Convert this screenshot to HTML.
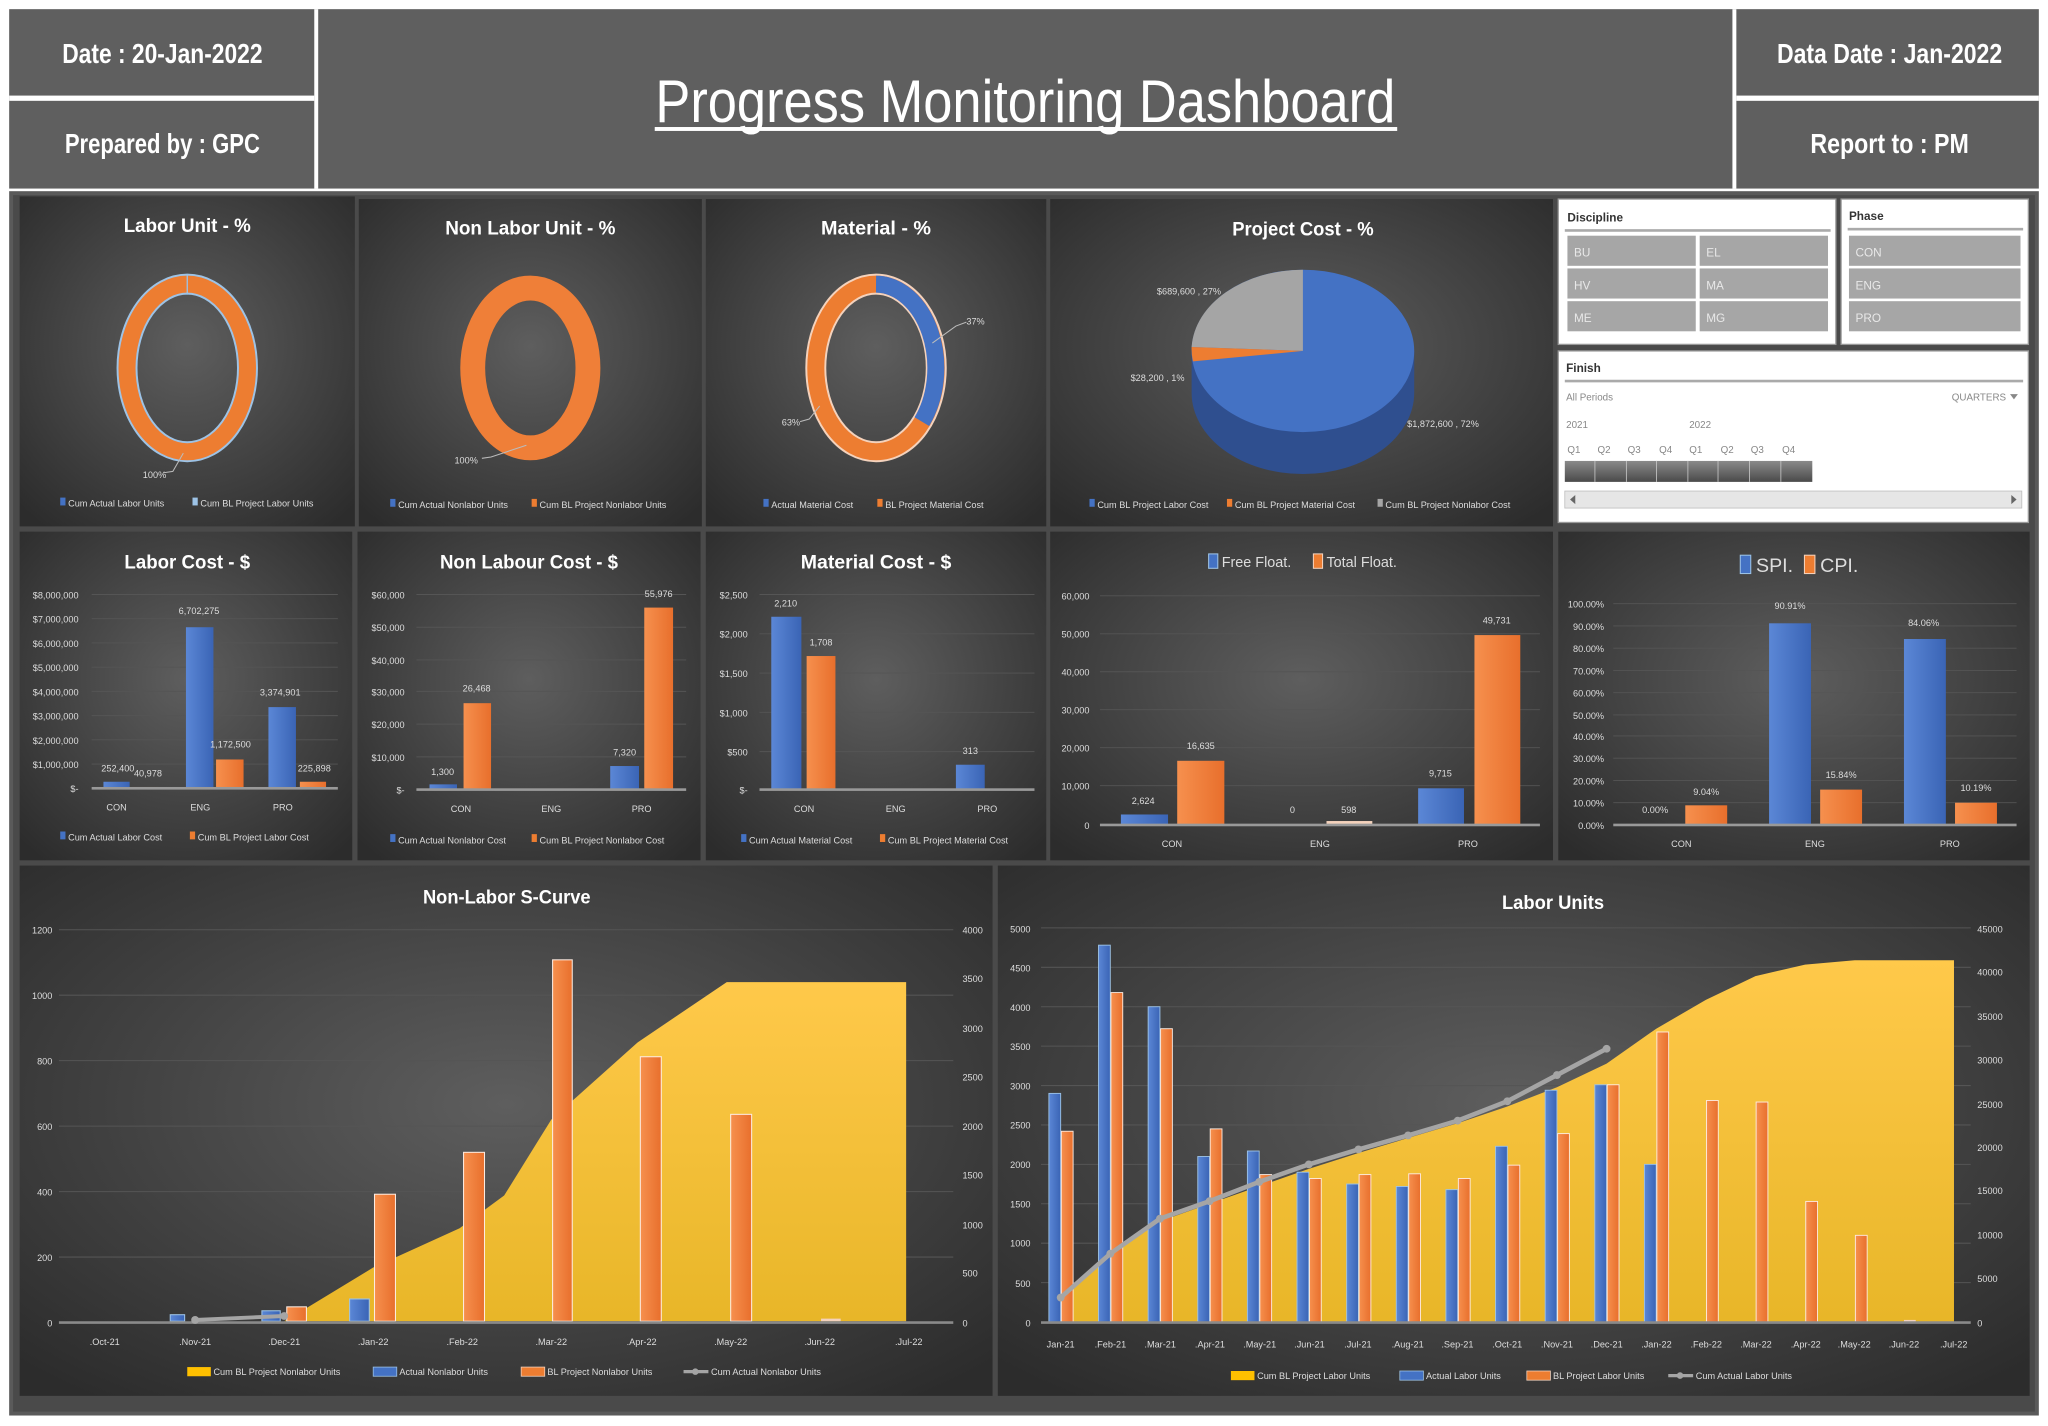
<!DOCTYPE html>
<html><head><meta charset="utf-8"><style>
html,body{margin:0;padding:0;background:#fff;width:2048px;height:1426px;overflow:hidden}
svg{display:block}
text{font-family:"Liberation Sans Narrow","Liberation Sans",sans-serif}
</style></head><body>
<svg width="2048" height="1426" viewBox="0 0 1564 1089" preserveAspectRatio="none" xmlns="http://www.w3.org/2000/svg">
<defs>
<radialGradient id="pg" cx="50%" cy="45%" r="70%"><stop offset="0" stop-color="#5e5e5e"/><stop offset="1" stop-color="#2c2c2c"/></radialGradient>
<linearGradient id="yel" x1="0" y1="0" x2="0" y2="1"><stop offset="0" stop-color="#ffc94a"/><stop offset="1" stop-color="#e8b628"/></linearGradient>
<linearGradient id="blu" x1="0" y1="0" x2="1" y2="0"><stop offset="0" stop-color="#5b87d6"/><stop offset="1" stop-color="#3a64b5"/></linearGradient>
<linearGradient id="org" x1="0" y1="0" x2="1" y2="0"><stop offset="0" stop-color="#f6904e"/><stop offset="1" stop-color="#e86f2c"/></linearGradient>
<linearGradient id="tl" x1="0" y1="0" x2="0" y2="1"><stop offset="0" stop-color="#8a8a8a"/><stop offset="1" stop-color="#4a4a4a"/></linearGradient>
</defs>
<!-- header -->
<rect x="7" y="7" width="1550" height="137" fill="#5f5f5f"/>
<rect x="240" y="7" width="3" height="137" fill="#fff"/>
<rect x="1323" y="7" width="3" height="137" fill="#fff"/>
<rect x="7" y="73" width="233" height="4" fill="#fff"/>
<rect x="1326" y="73" width="231" height="4" fill="#fff"/>
<g fill="#fff" font-weight="bold" font-size="21" text-anchor="middle" lengthAdjust="spacingAndGlyphs">
<text x="124" y="48" textLength="153" lengthAdjust="spacingAndGlyphs">Date : 20-Jan-2022</text>
<text x="124" y="117" textLength="149" lengthAdjust="spacingAndGlyphs">Prepared by : GPC</text>
<text x="1443" y="48" textLength="172" lengthAdjust="spacingAndGlyphs">Data Date : Jan-2022</text>
<text x="1443" y="117" textLength="121" lengthAdjust="spacingAndGlyphs">Report to : PM</text>
</g>
<text x="783" y="93" fill="#fff" font-size="46" text-anchor="middle" textLength="565" lengthAdjust="spacingAndGlyphs">Progress Monitoring Dashboard</text>
<rect x="500" y="97" width="567" height="3" fill="#fff"/>
<!-- frame -->
<rect x="7" y="146" width="1550" height="935" fill="#5a5a5a"/>
<rect x="10" y="149" width="1544" height="929" fill="#4a4a4a"/>
<g fill="url(#pg)">
<rect x="15" y="150" width="256" height="252"/>
<rect x="274" y="152" width="262" height="250"/>
<rect x="539" y="152" width="260" height="250"/>
<rect x="802" y="152" width="384" height="250"/>
<rect x="15" y="406" width="254" height="251"/>
<rect x="273" y="406" width="262" height="251"/>
<rect x="539" y="406" width="260" height="251"/>
<rect x="802" y="406" width="384" height="251"/>
<rect x="1190" y="406" width="360" height="251"/>
<rect x="15" y="661" width="743" height="405"/>
<rect x="762" y="661" width="788" height="405"/>
</g>
<g fill="#fff" font-weight="bold" font-size="15" text-anchor="middle">
<text x="143" y="177" textLength="97" lengthAdjust="spacingAndGlyphs">Labor Unit - %</text>
<text x="405" y="179" textLength="130" lengthAdjust="spacingAndGlyphs">Non Labor Unit - %</text>
<text x="669" y="179" textLength="84" lengthAdjust="spacingAndGlyphs">Material - %</text>
<text x="995" y="180" textLength="108" lengthAdjust="spacingAndGlyphs">Project Cost - %</text>
<text x="143" y="434" textLength="96" lengthAdjust="spacingAndGlyphs">Labor Cost - $</text>
<text x="404" y="434" textLength="136" lengthAdjust="spacingAndGlyphs">Non Labour Cost - $</text>
<text x="669" y="434" textLength="115" lengthAdjust="spacingAndGlyphs">Material Cost - $</text>
<text x="387" y="690" textLength="128" lengthAdjust="spacingAndGlyphs">Non-Labor S-Curve</text>
<text x="1186" y="694" textLength="78" lengthAdjust="spacingAndGlyphs">Labor Units</text>
</g>
<g font-size="7">
<!-- donuts -->
<ellipse cx="143" cy="281" rx="46" ry="64" fill="none" stroke="#9dc3e6" stroke-width="16"/>
<ellipse cx="143" cy="281" rx="46" ry="64" fill="none" stroke="#ed7d31" stroke-width="13"/>
<line x1="143" y1="210" x2="143" y2="225" stroke="#9dc3e6" stroke-width="1"/>
<polyline points="140,346 132,360 125,361" fill="none" stroke="#bbb" stroke-width="0.8"/>
<text x="118" y="365" fill="#ddd" text-anchor="middle">100%</text>
<ellipse cx="405" cy="281" rx="44" ry="61" fill="none" stroke="#ef7f38" stroke-width="19"/>
<polyline points="402,340 375,349 368,350" fill="none" stroke="#bbb" stroke-width="0.8"/>
<text x="356" y="354" fill="#ddd" text-anchor="middle">100%</text>
<ellipse cx="669" cy="281" rx="46" ry="64" fill="none" stroke="#f4d2bc" stroke-width="16"/>
<ellipse cx="669" cy="281" rx="46" ry="64" fill="none" stroke="#ed7d31" stroke-width="13"/>
<path d="M669,217 A46,64 0 0 1 704,322" fill="none" stroke="#4472c4" stroke-width="13"/>
<polyline points="712,262 730,249 738,246" fill="none" stroke="#bbb" stroke-width="0.8"/>
<text x="745" y="248" fill="#ddd" text-anchor="middle">37%</text>
<polyline points="626,310 618,320 611,322" fill="none" stroke="#bbb" stroke-width="0.8"/>
<text x="604" y="325" fill="#ddd" text-anchor="middle">63%</text>
<!-- 3d pie -->
<path d="M910,268 L910,300 A85,62 0 0 0 1080,300 L1080,268 Z" fill="#2f4f8f"/>
<ellipse cx="995" cy="268" rx="85" ry="62" fill="#4472c4"/>
<path d="M995,268 L995,206 A85,62 0 0 0 910,265 Z" fill="#a5a5a5"/>
<path d="M995,268 L910,265 A85,62 0 0 0 911,276 Z" fill="#ed7d31"/>
<text x="908" y="225" fill="#ddd" text-anchor="middle">$689,600 , 27%</text>
<text x="884" y="291" fill="#ddd" text-anchor="middle">$28,200 , 1%</text>
<text x="1102" y="326" fill="#ddd" text-anchor="middle">$1,872,600 , 72%</text>
<!-- row1 legends -->
<g fill="#ddd">
<rect x="46" y="380" width="4" height="6" fill="#4472c4"/><text x="52" y="387">Cum Actual Labor Units</text>
<rect x="147" y="380" width="4" height="6" fill="#9dc3e6"/><text x="153" y="387">Cum BL Project Labor Units</text>
<rect x="298" y="381" width="4" height="6" fill="#4472c4"/><text x="304" y="388">Cum Actual Nonlabor Units</text>
<rect x="406" y="381" width="4" height="6" fill="#ed7d31"/><text x="412" y="388">Cum BL Project Nonlabor Units</text>
<rect x="583" y="381" width="4" height="6" fill="#4472c4"/><text x="589" y="388">Actual Material Cost</text>
<rect x="670" y="381" width="4" height="6" fill="#ed7d31"/><text x="676" y="388">BL Project Material Cost</text>
<rect x="832" y="381" width="4" height="6" fill="#4472c4"/><text x="838" y="388">Cum BL Project Labor Cost</text>
<rect x="937" y="381" width="4" height="6" fill="#ed7d31"/><text x="943" y="388">Cum BL Project Material Cost</text>
<rect x="1052" y="381" width="4" height="6" fill="#a5a5a5"/><text x="1058" y="388">Cum BL Project Nonlabor Cost</text>
</g>
</g>
<!-- slicers -->
<rect x="1190" y="152" width="212" height="111" fill="#fff" stroke="#999"/>
<rect x="1406" y="152" width="143" height="111" fill="#fff" stroke="#999"/>
<text x="1197" y="169" font-size="9" font-weight="bold" fill="#333">Discipline</text>
<text x="1412" y="168" font-size="9" font-weight="bold" fill="#333">Phase</text>
<rect x="1195" y="175" width="203" height="2" fill="#aaa"/>
<rect x="1411" y="174" width="134" height="2" fill="#aaa"/>
<g fill="#a6a6a6">
<rect x="1197" y="180" width="98" height="23"/><rect x="1298" y="180" width="98" height="23"/>
<rect x="1197" y="205" width="98" height="23"/><rect x="1298" y="205" width="98" height="23"/>
<rect x="1197" y="230" width="98" height="23"/><rect x="1298" y="230" width="98" height="23"/>
<rect x="1412" y="180" width="131" height="23"/><rect x="1412" y="205" width="131" height="23"/><rect x="1412" y="230" width="131" height="23"/>
</g>
<g font-size="9" fill="#e8e8e8">
<text x="1202" y="196">BU</text><text x="1303" y="196">EL</text>
<text x="1202" y="221">HV</text><text x="1303" y="221">MA</text>
<text x="1202" y="246">ME</text><text x="1303" y="246">MG</text>
<text x="1417" y="196">CON</text><text x="1417" y="221">ENG</text><text x="1417" y="246">PRO</text>
</g>
<rect x="1190" y="268" width="359" height="131" fill="#fff" stroke="#999"/>
<text x="1196" y="284" font-size="9" font-weight="bold" fill="#333">Finish</text>
<rect x="1195" y="290" width="350" height="2" fill="#aaa"/>
<g font-size="7.5" fill="#888">
<text x="1196" y="306">All Periods</text>
<text x="1532" y="306" text-anchor="end">QUARTERS</text>
<text x="1196" y="327">2021</text><text x="1290" y="327">2022</text>
<text x="1197" y="346">Q1</text><text x="1220" y="346">Q2</text><text x="1243" y="346">Q3</text><text x="1267" y="346">Q4</text>
<text x="1290" y="346">Q1</text><text x="1314" y="346">Q2</text><text x="1337" y="346">Q3</text><text x="1361" y="346">Q4</text>
</g>
<path d="M1535,301 l6,0 l-3,4 z" fill="#888"/>
<rect x="1195" y="352" width="189" height="16" fill="url(#tl)"/>
<g stroke="#ccc" stroke-width="0.6"><line x1="1218" y1="352" x2="1218" y2="368"/><line x1="1242" y1="352" x2="1242" y2="368"/><line x1="1265" y1="352" x2="1265" y2="368"/><line x1="1289" y1="352" x2="1289" y2="368"/><line x1="1312" y1="352" x2="1312" y2="368"/><line x1="1336" y1="352" x2="1336" y2="368"/><line x1="1360" y1="352" x2="1360" y2="368"/></g>
<rect x="1195" y="375" width="349" height="13" fill="#e6e6e6" stroke="#bbb" stroke-width="0.6"/>
<path d="M1203,378 l-4,3.5 l4,3.5z M1536,378 l4,3.5 l-4,3.5z" fill="#666"/>

<g font-size="7">
<!-- Labor cost -->
<g stroke="#555" stroke-width="0.7">
<line x1="70" y1="454" x2="258" y2="454"/><line x1="70" y1="472.5" x2="258" y2="472.5"/><line x1="70" y1="491" x2="258" y2="491"/><line x1="70" y1="509.5" x2="258" y2="509.5"/><line x1="70" y1="528" x2="258" y2="528"/><line x1="70" y1="546.5" x2="258" y2="546.5"/><line x1="70" y1="565" x2="258" y2="565"/><line x1="70" y1="583.5" x2="258" y2="583.5"/>
</g>
<g fill="#ddd" text-anchor="end">
<text x="60" y="457">$8,000,000</text><text x="60" y="475.5">$7,000,000</text><text x="60" y="494">$6,000,000</text><text x="60" y="512.5">$5,000,000</text><text x="60" y="531">$4,000,000</text><text x="60" y="549.5">$3,000,000</text><text x="60" y="568">$2,000,000</text><text x="60" y="586.5">$1,000,000</text><text x="60" y="605">$-</text>
</g>
<rect x="79" y="597" width="20" height="5" fill="url(#blu)"/><rect x="101" y="601" width="20" height="1" fill="url(#org)"/>
<rect x="142" y="479" width="21" height="123" fill="url(#blu)"/><rect x="165" y="580" width="21" height="22" fill="url(#org)"/>
<rect x="205" y="540" width="21" height="62" fill="url(#blu)"/><rect x="229" y="597" width="20" height="5" fill="url(#org)"/>
<rect x="70" y="601" width="188" height="2" fill="#999"/>
<g fill="#ddd" text-anchor="middle">
<text x="90" y="589">252,400</text><text x="113" y="593">40,978</text><text x="152" y="469">6,702,275</text><text x="176" y="571">1,172,500</text><text x="214" y="531">3,374,901</text><text x="240" y="589">225,898</text>
<text x="89" y="619">CON</text><text x="153" y="619">ENG</text><text x="216" y="619">PRO</text>
</g>
<!-- Non labour cost -->
<g stroke="#555" stroke-width="0.7">
<line x1="318" y1="454" x2="524" y2="454"/><line x1="318" y1="479" x2="524" y2="479"/><line x1="318" y1="504" x2="524" y2="504"/><line x1="318" y1="528" x2="524" y2="528"/><line x1="318" y1="553" x2="524" y2="553"/><line x1="318" y1="578" x2="524" y2="578"/>
</g>
<g fill="#ddd" text-anchor="end">
<text x="309" y="457">$60,000</text><text x="309" y="482">$50,000</text><text x="309" y="507">$40,000</text><text x="309" y="531">$30,000</text><text x="309" y="556">$20,000</text><text x="309" y="581">$10,000</text><text x="309" y="606">$-</text>
</g>
<rect x="328" y="599" width="21" height="4" fill="url(#blu)"/><rect x="354" y="537" width="21" height="66" fill="url(#org)"/>
<rect x="466" y="585" width="22" height="18" fill="url(#blu)"/><rect x="492" y="464" width="22" height="139" fill="url(#org)"/>
<rect x="318" y="602" width="206" height="2" fill="#999"/>
<g fill="#ddd" text-anchor="middle">
<text x="338" y="592">1,300</text><text x="364" y="528">26,468</text><text x="477" y="577">7,320</text><text x="503" y="456">55,976</text>
<text x="352" y="620">CON</text><text x="421" y="620">ENG</text><text x="490" y="620">PRO</text>
</g>
<!-- Material cost -->
<g stroke="#555" stroke-width="0.7">
<line x1="580" y1="454" x2="790" y2="454"/><line x1="580" y1="484" x2="790" y2="484"/><line x1="580" y1="514" x2="790" y2="514"/><line x1="580" y1="544" x2="790" y2="544"/><line x1="580" y1="574" x2="790" y2="574"/>
</g>
<g fill="#ddd" text-anchor="end">
<text x="571" y="457">$2,500</text><text x="571" y="487">$2,000</text><text x="571" y="517">$1,500</text><text x="571" y="547">$1,000</text><text x="571" y="577">$500</text><text x="571" y="606">$-</text>
</g>
<rect x="589" y="471" width="23" height="132" fill="url(#blu)"/><rect x="616" y="501" width="22" height="102" fill="url(#org)"/>
<rect x="730" y="584" width="22" height="19" fill="url(#blu)"/>
<rect x="580" y="602" width="210" height="2" fill="#999"/>
<g fill="#ddd" text-anchor="middle">
<text x="600" y="463">2,210</text><text x="627" y="493">1,708</text><text x="741" y="576">313</text>
<text x="614" y="620">CON</text><text x="684" y="620">ENG</text><text x="754" y="620">PRO</text>
</g>
<g fill="#ddd">
<rect x="46" y="635" width="4" height="6" fill="#4472c4"/><text x="52" y="642">Cum Actual Labor Cost</text>
<rect x="145" y="635" width="4" height="6" fill="#ed7d31"/><text x="151" y="642">Cum BL Project Labor Cost</text>
<rect x="298" y="637" width="4" height="6" fill="#4472c4"/><text x="304" y="644">Cum Actual Nonlabor Cost</text>
<rect x="406" y="637" width="4" height="6" fill="#ed7d31"/><text x="412" y="644">Cum BL Project Nonlabor Cost</text>
<rect x="566" y="637" width="4" height="6" fill="#4472c4"/><text x="572" y="644">Cum Actual Material Cost</text>
<rect x="672" y="637" width="4" height="6" fill="#ed7d31"/><text x="678" y="644">Cum BL Project Material Cost</text>
</g>
<!-- Floats -->
<rect x="923" y="423" width="7" height="11" fill="#4472c4" stroke="#9dc3e6" stroke-width="0.8"/><text x="933" y="433" font-size="11" fill="#ddd">Free Float.</text>
<rect x="1003" y="423" width="7" height="11" fill="#ed7d31" stroke="#f4d2bc" stroke-width="0.8"/><text x="1013" y="433" font-size="11" fill="#ddd">Total Float.</text>
<g stroke="#555" stroke-width="0.7">
<line x1="840" y1="455" x2="1176" y2="455"/><line x1="840" y1="484" x2="1176" y2="484"/><line x1="840" y1="513" x2="1176" y2="513"/><line x1="840" y1="542" x2="1176" y2="542"/><line x1="840" y1="571" x2="1176" y2="571"/><line x1="840" y1="600" x2="1176" y2="600"/>
</g>
<g fill="#ddd" text-anchor="end">
<text x="832" y="458">60,000</text><text x="832" y="487">50,000</text><text x="832" y="516">40,000</text><text x="832" y="545">30,000</text><text x="832" y="574">20,000</text><text x="832" y="603">10,000</text><text x="832" y="633">0</text>
</g>
<rect x="856" y="622" width="36" height="8" fill="url(#blu)"/><rect x="899" y="581" width="36" height="49" fill="url(#org)"/>
<rect x="1013" y="627" width="35" height="3" fill="#f4d2bc"/>
<rect x="1083" y="602" width="35" height="28" fill="url(#blu)"/><rect x="1126" y="485" width="35" height="145" fill="url(#org)"/>
<rect x="840" y="629" width="336" height="2" fill="#999"/>
<g fill="#ddd" text-anchor="middle">
<text x="873" y="614">2,624</text><text x="917" y="572">16,635</text><text x="987" y="621">0</text><text x="1030" y="621">598</text><text x="1100" y="593">9,715</text><text x="1143" y="476">49,731</text>
<text x="895" y="647">CON</text><text x="1008" y="647">ENG</text><text x="1121" y="647">PRO</text>
</g>
<!-- SPI CPI -->
<rect x="1329" y="424" width="8" height="14" fill="#4472c4" stroke="#9dc3e6" stroke-width="0.8"/><text x="1341" y="437" font-size="15" fill="#ddd">SPI.</text>
<rect x="1378" y="424" width="8" height="14" fill="#ed7d31" stroke="#f4d2bc" stroke-width="0.8"/><text x="1390" y="437" font-size="15" fill="#ddd">CPI.</text>
<g stroke="#555" stroke-width="0.7">
<line x1="1232" y1="461" x2="1540" y2="461"/><line x1="1232" y1="478" x2="1540" y2="478"/><line x1="1232" y1="495" x2="1540" y2="495"/><line x1="1232" y1="512" x2="1540" y2="512"/><line x1="1232" y1="529" x2="1540" y2="529"/><line x1="1232" y1="546" x2="1540" y2="546"/><line x1="1232" y1="562" x2="1540" y2="562"/><line x1="1232" y1="579" x2="1540" y2="579"/><line x1="1232" y1="596" x2="1540" y2="596"/><line x1="1232" y1="613" x2="1540" y2="613"/>
</g>
<g fill="#ddd" text-anchor="end">
<text x="1225" y="464">100.00%</text><text x="1225" y="481">90.00%</text><text x="1225" y="498">80.00%</text><text x="1225" y="515">70.00%</text><text x="1225" y="532">60.00%</text><text x="1225" y="549">50.00%</text><text x="1225" y="565">40.00%</text><text x="1225" y="582">30.00%</text><text x="1225" y="599">20.00%</text><text x="1225" y="616">10.00%</text><text x="1225" y="633">0.00%</text>
</g>
<rect x="1287" y="615" width="32" height="15" fill="url(#org)"/>
<rect x="1351" y="476" width="32" height="154" fill="url(#blu)"/><rect x="1390" y="603" width="32" height="27" fill="url(#org)"/>
<rect x="1454" y="488" width="32" height="142" fill="url(#blu)"/><rect x="1493" y="613" width="32" height="17" fill="url(#org)"/>
<rect x="1232" y="629" width="308" height="2" fill="#999"/>
<g fill="#ddd" text-anchor="middle">
<text x="1264" y="621">0.00%</text><text x="1303" y="607">9.04%</text><text x="1367" y="465">90.91%</text><text x="1406" y="594">15.84%</text><text x="1469" y="478">84.06%</text><text x="1509" y="604">10.19%</text>
<text x="1284" y="647">CON</text><text x="1386" y="647">ENG</text><text x="1489" y="647">PRO</text>
</g>

<!-- Non-Labor S-curve -->
<g stroke="#555" stroke-width="0.8">
<line x1="45" y1="710" x2="728" y2="710"/><line x1="45" y1="760" x2="728" y2="760"/><line x1="45" y1="810" x2="728" y2="810"/><line x1="45" y1="860" x2="728" y2="860"/><line x1="45" y1="910" x2="728" y2="910"/><line x1="45" y1="960" x2="728" y2="960"/>
</g>
<path d="M217,1009 L234,999 L285,968 L351,938 L385,913 L421,855 L487,796 L555,750 L692,750 L692,1009 Z" fill="url(#yel)"/>
<g stroke="#fdebe0" stroke-width="0.8">
<rect x="219" y="998" width="15" height="11" fill="url(#org)"/>
<rect x="286" y="912" width="16" height="97" fill="url(#org)"/>
<rect x="354" y="880" width="16" height="129" fill="url(#org)"/>
<rect x="422" y="733" width="15" height="276" fill="url(#org)"/>
<rect x="489" y="807" width="16" height="202" fill="url(#org)"/>
<rect x="558" y="851" width="16" height="158" fill="url(#org)"/>
</g>
<g stroke="#9dc3e6" stroke-width="0.8">
<rect x="130" y="1004" width="11" height="5" fill="url(#blu)"/>
<rect x="200" y="1001" width="14" height="8" fill="url(#blu)"/>
<rect x="267" y="992" width="15" height="17" fill="url(#blu)"/>
</g>
<rect x="627" y="1007" width="15" height="2" fill="#f4d2bc"/>
<rect x="45" y="1009" width="683" height="2" fill="#8a8a8a"/>
<polyline points="149,1008 217,1005" stroke="#a5a5a5" stroke-width="3" fill="none"/>
<circle cx="149" cy="1008" r="3" fill="#a5a5a5"/><circle cx="217" cy="1005" r="3" fill="#a5a5a5"/>
<g fill="#ddd" text-anchor="end">
<text x="40" y="713">1200</text><text x="40" y="763">1000</text><text x="40" y="813">800</text><text x="40" y="863">600</text><text x="40" y="913">400</text><text x="40" y="963">200</text><text x="40" y="1013">0</text>
</g>
<g fill="#ddd">
<text x="735" y="713">4000</text><text x="735" y="750">3500</text><text x="735" y="788">3000</text><text x="735" y="825">2500</text><text x="735" y="863">2000</text><text x="735" y="900">1500</text><text x="735" y="938">1000</text><text x="735" y="975">500</text><text x="735" y="1013">0</text>
</g>
<g fill="#ddd" text-anchor="middle">
<text x="80" y="1027">.Oct-21</text><text x="149" y="1027">.Nov-21</text><text x="217" y="1027">.Dec-21</text><text x="285" y="1027">.Jan-22</text><text x="353" y="1027">.Feb-22</text><text x="421" y="1027">.Mar-22</text><text x="490" y="1027">.Apr-22</text><text x="558" y="1027">.May-22</text><text x="626" y="1027">.Jun-22</text><text x="694" y="1027">.Jul-22</text>
</g>
<g fill="#ddd">
<rect x="143" y="1044" width="18" height="7" fill="#ffc000"/><text x="163" y="1050">Cum BL Project Nonlabor Units</text>
<rect x="285" y="1044" width="18" height="7" fill="#4472c4" stroke="#9dc3e6" stroke-width="0.6"/><text x="305" y="1050">Actual Nonlabor Units</text>
<rect x="398" y="1044" width="18" height="7" fill="#ed7d31" stroke="#f4d2bc" stroke-width="0.6"/><text x="418" y="1050">BL Project Nonlabor Units</text>
<line x1="522" y1="1047.5" x2="541" y2="1047.5" stroke="#a5a5a5" stroke-width="2.5"/><circle cx="531" cy="1047.5" r="2.5" fill="#a5a5a5"/><text x="543" y="1050">Cum Actual Nonlabor Units</text>
</g>

<!-- Labor Units -->
<g stroke="#555" stroke-width="0.8">
<line x1="795" y1="708.6" x2="1505" y2="708.6"/><line x1="795" y1="738.7" x2="1505" y2="738.7"/><line x1="795" y1="768.8" x2="1505" y2="768.8"/><line x1="795" y1="798.9" x2="1505" y2="798.9"/><line x1="795" y1="829" x2="1505" y2="829"/><line x1="795" y1="859.1" x2="1505" y2="859.1"/><line x1="795" y1="889.2" x2="1505" y2="889.2"/><line x1="795" y1="919.3" x2="1505" y2="919.3"/><line x1="795" y1="949.4" x2="1505" y2="949.4"/><line x1="795" y1="979.5" x2="1505" y2="979.5"/>
</g>
<path d="M810,993.6 L847.9,956 L885.8,932.7 L923.7,919.3 L961.6,905.9 L999.5,892.6 L1037.4,880.5 L1075.3,869.1 L1113.2,857.8 L1151.1,845 L1189,830.3 L1226.9,812.3 L1264.8,785.6 L1302.7,763.6 L1340.6,745.4 L1378.5,736.7 L1416.4,733.3 L1492.2,733.3 L1492.2,1009.6 L810,1009.6 Z" fill="url(#yel)"/>
<g stroke="#9dc3e6" stroke-width="0.7" fill="url(#blu)">
<rect x="801" y="835" width="9" height="174.6"/>
<rect x="838.9" y="721.8" width="9" height="287.8"/>
<rect x="876.8" y="768.8" width="9" height="240.8"/>
<rect x="914.7" y="883.2" width="9" height="126.4"/>
<rect x="952.6" y="879" width="9" height="130.6"/>
<rect x="990.5" y="895.2" width="9" height="114.4"/>
<rect x="1028.4" y="904.2" width="9" height="105.4"/>
<rect x="1066.3" y="906.1" width="9" height="103.5"/>
<rect x="1104.2" y="908.5" width="9" height="101.1"/>
<rect x="1142.1" y="875.4" width="9" height="134.2"/>
<rect x="1180" y="832.6" width="9" height="177"/>
<rect x="1217.9" y="828.4" width="9" height="181.2"/>
<rect x="1255.8" y="889.2" width="9" height="120.4"/>
</g>
<g stroke="#fdebe0" stroke-width="0.7" fill="url(#org)">
<rect x="810.5" y="863.9" width="9" height="145.7"/>
<rect x="848.4" y="758" width="9" height="251.6"/>
<rect x="886.3" y="785.6" width="9" height="224"/>
<rect x="924.2" y="862.1" width="9" height="147.5"/>
<rect x="962.1" y="897" width="9" height="112.6"/>
<rect x="1000" y="900" width="9" height="109.6"/>
<rect x="1037.9" y="897" width="9" height="112.6"/>
<rect x="1075.8" y="896.4" width="9" height="113.2"/>
<rect x="1113.7" y="900" width="9" height="109.6"/>
<rect x="1151.6" y="889.8" width="9" height="119.8"/>
<rect x="1189.5" y="865.7" width="9" height="143.9"/>
<rect x="1227.4" y="828.4" width="9" height="181.2"/>
<rect x="1265.3" y="788.1" width="9" height="221.5"/>
<rect x="1303.2" y="840.4" width="9" height="169.2"/>
<rect x="1341.1" y="841.6" width="9" height="168"/>
<rect x="1379" y="917.5" width="9" height="92.1"/>
<rect x="1416.9" y="943.4" width="9" height="66.2"/>
</g>
<rect x="1454" y="1008" width="9" height="1.6" fill="#f4d2bc"/>
<rect x="795" y="1009" width="710" height="2" fill="#8a8a8a"/>
<polyline points="810,990.9 847.9,957.4 885.8,930.7 923.7,917.3 961.6,902.6 999.5,889.2 1037.4,877.8 1075.3,867.1 1113.2,855.8 1151.1,841 1189,821 1226.9,800.9" fill="none" stroke="#a5a5a5" stroke-width="3.5"/>
<g fill="#a5a5a5">
<circle cx="810" cy="990.9" r="3"/><circle cx="847.9" cy="957.4" r="3"/><circle cx="885.8" cy="930.7" r="3"/><circle cx="923.7" cy="917.3" r="3"/><circle cx="961.6" cy="902.6" r="3"/><circle cx="999.5" cy="889.2" r="3"/><circle cx="1037.4" cy="877.8" r="3"/><circle cx="1075.3" cy="867.1" r="3"/><circle cx="1113.2" cy="855.8" r="3"/><circle cx="1151.1" cy="841" r="3"/><circle cx="1189" cy="821" r="3"/><circle cx="1226.9" cy="800.9" r="3"/>
</g>
<g fill="#ddd" text-anchor="end">
<text x="787" y="712">5000</text><text x="787" y="742">4500</text><text x="787" y="772">4000</text><text x="787" y="802">3500</text><text x="787" y="832">3000</text><text x="787" y="862">2500</text><text x="787" y="892">2000</text><text x="787" y="922">1500</text><text x="787" y="952">1000</text><text x="787" y="983">500</text><text x="787" y="1013">0</text>
</g>
<g fill="#ddd">
<text x="1510" y="712">45000</text><text x="1510" y="745">40000</text><text x="1510" y="779">35000</text><text x="1510" y="812">30000</text><text x="1510" y="846">25000</text><text x="1510" y="879">20000</text><text x="1510" y="912">15000</text><text x="1510" y="946">10000</text><text x="1510" y="979">5000</text><text x="1510" y="1013">0</text>
</g>
<g fill="#ddd" text-anchor="middle">
<text x="810" y="1029">Jan-21</text><text x="848" y="1029">.Feb-21</text><text x="886" y="1029">.Mar-21</text><text x="924" y="1029">.Apr-21</text><text x="962" y="1029">.May-21</text><text x="1000" y="1029">.Jun-21</text><text x="1037" y="1029">.Jul-21</text><text x="1075" y="1029">.Aug-21</text><text x="1113" y="1029">.Sep-21</text><text x="1151" y="1029">.Oct-21</text><text x="1189" y="1029">.Nov-21</text><text x="1227" y="1029">.Dec-21</text><text x="1265" y="1029">.Jan-22</text><text x="1303" y="1029">.Feb-22</text><text x="1341" y="1029">.Mar-22</text><text x="1379" y="1029">.Apr-22</text><text x="1416" y="1029">.May-22</text><text x="1454" y="1029">.Jun-22</text><text x="1492" y="1029">.Jul-22</text>
</g>
<g fill="#ddd">
<rect x="940" y="1047" width="18" height="7" fill="#ffc000"/><text x="960" y="1053">Cum BL Project Labor Units</text>
<rect x="1069" y="1047" width="18" height="7" fill="#4472c4" stroke="#9dc3e6" stroke-width="0.6"/><text x="1089" y="1053">Actual Labor Units</text>
<rect x="1166" y="1047" width="18" height="7" fill="#ed7d31" stroke="#f4d2bc" stroke-width="0.6"/><text x="1186" y="1053">BL Project Labor Units</text>
<line x1="1274" y1="1050.5" x2="1293" y2="1050.5" stroke="#a5a5a5" stroke-width="2.5"/><circle cx="1283" cy="1050.5" r="2.5" fill="#a5a5a5"/><text x="1295" y="1053">Cum Actual Labor Units</text>
</g>
</g>
</svg>
</body></html>
